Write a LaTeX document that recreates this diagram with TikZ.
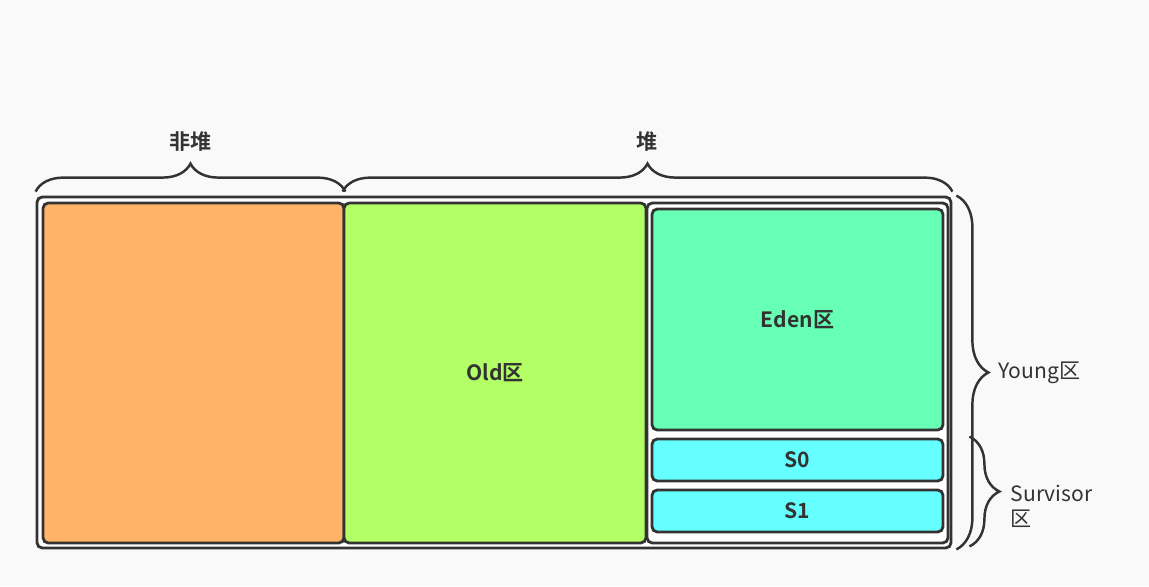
\documentclass[tikz,border=0pt]{standalone}
\usepackage{fontspec}
\setmainfont{Noto Sans CJK SC}[BoldFont={Noto Sans CJK SC Bold}]
\usetikzlibrary{decorations.pathreplacing, positioning}
\definecolor{heapline}{RGB}{51,51,51}
\definecolor{heapbg}{RGB}{249,249,249}
\definecolor{nonheapfill}{RGB}{255,179,102}
\definecolor{oldfill}{RGB}{179,255,102}
\definecolor{edenfill}{RGB}{102,255,179}
\definecolor{survfill}{RGB}{102,255,255}

\begin{document}
\begin{tikzpicture}[
    area/.style={draw=heapline, line width=1.6pt, rounded corners=3pt, inner sep=0pt,
      text=heapline, font=\bfseries\fontsize{12}{14}\selectfont},
    bracket/.style={decorate, decoration={brace, amplitude=#1}, draw=heapline, line width=1.4pt},
    bracket/.default=0.56cm,
    bracelabel/.style={inner sep=0pt, text=heapline, font=\fontsize{12}{14}\selectfont}
  ]
  % canvas
  \fill[heapbg] (0,0) rectangle (22.98,11.72);
  \useasboundingbox (0,0) rectangle (22.98,11.72);

  % memory boxes
  \node[area, fill=white, minimum width=18.28cm, minimum height=7.02cm] (outer) at (9.88,4.27) {};
  \node[area, fill=nonheapfill, minimum width=6.02cm, minimum height=6.80cm] (nonheap) at (3.87,4.26) {};
  \node[area, fill=oldfill, minimum width=6.04cm, minimum height=6.80cm] (old) at (9.90,4.26) {Old区};
  \node[area, fill=white, minimum width=6.02cm, minimum height=6.80cm] (young) at (15.95,4.26) {};
  \node[area, fill=edenfill, minimum width=5.82cm, minimum height=4.42cm] (eden) at (15.95,5.33) {Eden区};
  \node[area, fill=survfill, minimum width=5.82cm, minimum height=0.84cm] (s0) at (15.95,2.52) {S0};
  \node[area, fill=survfill, minimum width=5.82cm, minimum height=0.84cm] (s1) at (15.95,1.50) {S1};

  % top braces
  \draw[bracket] ([yshift=0.08cm]outer.north west) -- ([yshift=0.2cm]nonheap.north east)
    node[bracelabel, midway, above=0.78cm, font=\bfseries\fontsize{12}{14}\selectfont] (nonheaplabel) {非堆};
  \draw[bracket] ([yshift=0.2cm]old.north west) -- ([yshift=0.08cm]outer.north east)
    node[bracelabel, midway, above=0.78cm, font=\bfseries\fontsize{12}{14}\selectfont] (heaplabel) {堆};

  % right braces
  \draw[bracket=0.64cm] ([xshift=0.08cm]outer.north east) -- ([xshift=0.08cm]outer.south east)
    node[bracelabel, midway, right=0.82cm] (younglabel) {Young区};
  \path (s0.north -| outer.east) ++(0.34,0.02) coordinate (survtop);
  \path (outer.south east) ++(0.34,0.06) coordinate (survbot);
  \draw[bracket=0.6cm] (survtop) -- (survbot)
    node[bracelabel, midway, right=0.8cm, yshift=-0.3cm, align=left] (survlabel) {Survisor\\区};
\end{tikzpicture}
\end{document}
